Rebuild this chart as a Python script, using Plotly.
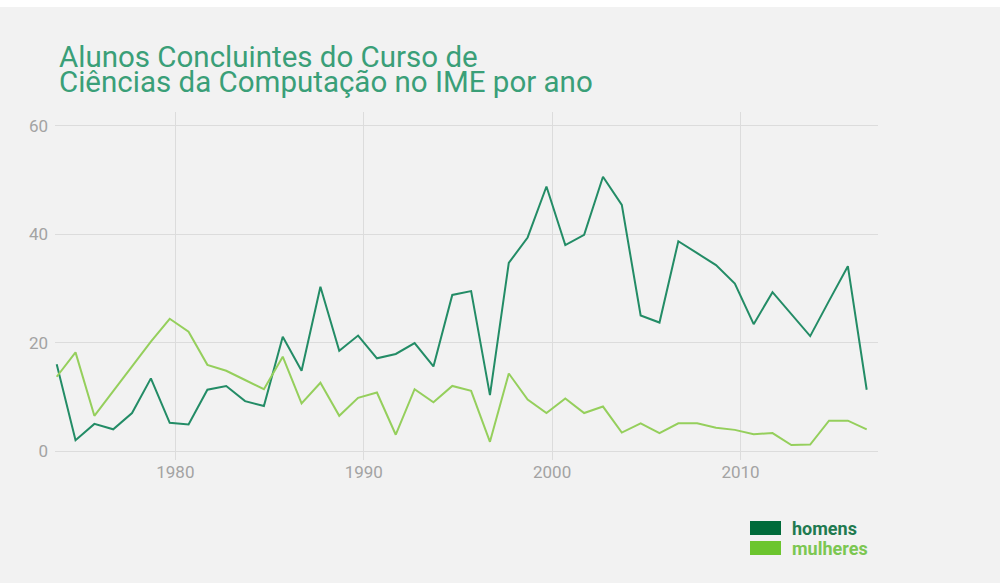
import plotly.graph_objects as go

# ---- data ----
years = list(range(1974, 2018))
homens = [16, 2, 5, 4, 7, 13.4, 5.2, 4.9, 11.3, 12, 9.2, 8.3, 21.1, 14.8, 30.3,
          18.5, 21.3, 17.1, 17.9, 19.9, 15.6, 28.8, 29.5, 10.3, 34.7, 39.4, 48.8,
          38, 39.9, 50.6, 45.4, 25, 23.7, 38.7, 36.5, 34.3, 30.9, 23.4, 29.3,
          25.3, 21.2, 27.7, 34.1, 11.3]
mulheres = [13.7, 18.2, 6.5, 11.1, 15.6, 20.2, 24.4, 22.0, 15.9, 14.8, 13.1, 11.4,
            17.4, 8.8, 12.6, 6.5, 9.8, 10.8, 3.0, 11.4, 9.0, 12.0, 11.1, 1.7, 14.3,
            9.5, 7.0, 9.7, 7.0, 8.2, 3.4, 5.1, 3.3, 5.1, 5.1, 4.3, 3.9, 3.1, 3.3,
            1.1, 1.2, 5.6, 5.6, 4.0]
x_tick_labels = ["1980", "1990", "2000", "2010"]
y_ticks = [0, 20, 40, 60]
title_lines = ["Alunos Concluintes do Curso de", "Ciências da Computação no IME por ano"]
series_names = ["homens", "mulheres"]

# ---- layout geometry (pixels) ----
W, H = 1000, 583
ML, MR, MT, MB = 55, 122, 112, 123
PW, PH = W - ML - MR, H - MT - MB


def px(xp):
    return (xp - ML) / PW


def py(yp):
    return (H - MB - yp) / PH


c_dark_line = "#238c66"
c_light_line = "#95cf5c"
c_dark_leg = "#006b3a"
c_light_leg = "#6cc52e"
c_dark_txt = "#1f7a50"
c_light_txt = "#7cc752"
c_title = "#3a9f78"
bg = "#f2f2f2"

fig = go.Figure()
fig.add_trace(go.Scatter(x=years, y=homens, mode="lines", name=series_names[0],
                         line=dict(color=c_dark_line, width=2), showlegend=False))
fig.add_trace(go.Scatter(x=years, y=mulheres, mode="lines", name=series_names[1],
                         line=dict(color=c_light_line, width=2), showlegend=False))

tick_offset = 0.3
tickvals = [int(t) + tick_offset for t in x_tick_labels]

shapes = [
    # white strip at the top of the page
    dict(type="rect", xref="paper", yref="paper", x0=px(-5), x1=px(W + 5),
         y0=py(7), y1=py(-5), fillcolor="white", line=dict(width=0), layer="below"),
    # legend squares
    dict(type="rect", xref="paper", yref="paper", x0=px(750), x1=px(781),
         y0=py(535), y1=py(521), fillcolor=c_dark_leg, line=dict(width=0)),
    dict(type="rect", xref="paper", yref="paper", x0=px(750), x1=px(781),
         y0=py(555), y1=py(541), fillcolor=c_light_leg, line=dict(width=0)),
]

annotations = [
    dict(text=title_lines[0], xref="paper", yref="paper", x=px(57), y=py(57),
         xanchor="left", yanchor="middle", showarrow=False,
         font=dict(family="Roboto", size=29.5, color=c_title)),
    dict(text=title_lines[1], xref="paper", yref="paper", x=px(57), y=py(82),
         xanchor="left", yanchor="middle", showarrow=False,
         font=dict(family="Roboto", size=29.5, color=c_title)),
    dict(text="<b>" + series_names[0] + "</b>", xref="paper", yref="paper", x=px(790), y=py(528),
         xanchor="left", yanchor="middle", showarrow=False,
         font=dict(family="Roboto", size=18, color=c_dark_txt)),
    dict(text="<b>" + series_names[1] + "</b>", xref="paper", yref="paper", x=px(790), y=py(548),
         xanchor="left", yanchor="middle", showarrow=False,
         font=dict(family="Roboto", size=18, color=c_light_txt)),
]

fig.update_layout(
    width=W, height=H,
    margin=dict(l=ML, r=MR, t=MT, b=MB, pad=0),
    paper_bgcolor=bg, plot_bgcolor=bg,
    shapes=shapes, annotations=annotations,
    showlegend=False,
    xaxis=dict(range=[1973.91, 2017.6], tickvals=tickvals, ticktext=x_tick_labels,
               showgrid=True, gridcolor="#dcdcdc", gridwidth=1, zeroline=False,
               showline=False, ticks="", tickfont=dict(family="Roboto", size=17, color="#a3a3a3")),
    yaxis=dict(range=[-1.66, 62.55], tickvals=y_ticks,
               showgrid=True, gridcolor="#dcdcdc", gridwidth=1, zeroline=False,
               showline=False, ticks="", ticklabelstandoff=6,
               tickfont=dict(family="Roboto", size=17, color="#a3a3a3")),
)

fig.write_html("out.html",
               config={"displayModeBar": False},
               post_script="document.body.style.margin='0';document.body.style.overflow='hidden';")
